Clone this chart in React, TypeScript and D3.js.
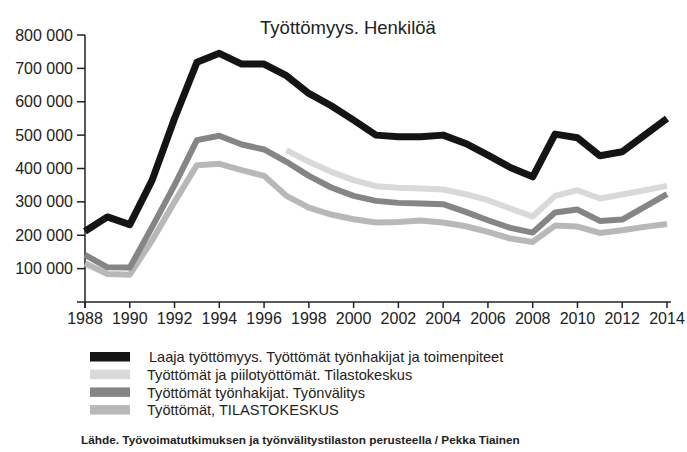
import React from "react";
import * as d3 from "d3";

const years: number[] = d3.range(1988, 2015);
const laaja: number[] = [212, 255, 232, 365, 550, 718, 745, 713, 713, 678, 625, 588, 545, 500, 495, 495, 500, 475, 440, 403, 375, 503, 492, 438, 450, 500, 550].map((v) => v * 1000);
const tyonvalitys: number[] = [141, 104, 103, 225, 350, 485, 498, 472, 457, 420, 378, 343, 318, 303, 297, 295, 293, 270, 245, 222, 208, 268, 277, 243, 247, 285, 323].map((v) => v * 1000);
const tilastokeskus: number[] = [116, 84, 82, 185, 300, 410, 414, 395, 378, 318, 283, 262, 248, 238, 240, 244, 238, 227, 210, 190, 180, 229, 226, 207, 215, 225, 234].map((v) => v * 1000);
const piiloYears: number[] = d3.range(1997, 2015);
const piilo: number[] = [455, 420, 390, 365, 347, 342, 340, 337, 323, 305, 280, 256, 318, 335, 310, 322, 335, 348].map((v) => v * 1000);

const yTicks: number[] = [100000, 200000, 300000, 400000, 500000, 600000, 700000, 800000];
const xTicks: number[] = d3.range(1988, 2015, 2);

const title = "Työttömyys. Henkilöä";
const legendLabels: string[] = [
  "Laaja työttömyys. Työttömät työnhakijat ja toimenpiteet",
  "Työttömät ja piilotyöttömät. Tilastokeskus",
  "Työttömät työnhakijat. Työnvälitys",
  "Työttömät, TILASTOKESKUS",
];
const source = "Lähde. Työvoimatutkimuksen ja työnvälitystilaston perusteella / Pekka Tiainen";

const colors = ["#141414", "#d9d9d9", "#858585", "#b8b8b8"];

export default function App() {
  const x = d3.scaleLinear().domain([1988, 2014]).range([85, 667]);
  const y = d3.scaleLinear().domain([0, 800000]).range([302, 35]);
  const fmt = (v: number) => d3.format(",")(v).replace(/,/g, " ");
  const line = d3
    .line<[number, number]>()
    .x((d) => x(d[0]))
    .y((d) => y(d[1]));

  const series = [
    { yrs: years, vals: laaja, color: colors[0], w: 7 },
    { yrs: piiloYears, vals: piilo, color: colors[1], w: 6 },
    { yrs: years, vals: tyonvalitys, color: colors[2], w: 6 },
    { yrs: years, vals: tilastokeskus, color: colors[3], w: 6 },
  ];
  const drawOrder = [3, 2, 1, 0];
  const font = "'Liberation Sans', Arial, sans-serif";

  return (
    <svg
      width={687}
      height={452}
      style={{ position: "absolute", left: 0, top: 0, background: "#fff" }}
      fontFamily={font}
    >
      <rect width={687} height={452} fill="#fff" />
      <text x={348} y={34} textAnchor="middle" fontSize={18.5} fill="#222">
        {title}
      </text>
      {/* y axis */}
      <line x1={x(1988)} x2={x(1988)} y1={y(800000)} y2={y(0) + 6} stroke="#222" strokeWidth={1.5} />
      {yTicks.map((t) => (
        <g key={t}>
          <line x1={x(1988) - 8} x2={x(1988)} y1={y(t)} y2={y(t)} stroke="#222" strokeWidth={1.5} />
          <text x={x(1988) - 12} y={y(t)} dy="0.35em" textAnchor="end" fontSize={16} fill="#222">
            {fmt(t)}
          </text>
        </g>
      ))}
      {/* x axis */}
      <line x1={x(1988) - 8} x2={x(2014) + 4} y1={y(0)} y2={y(0)} stroke="#222" strokeWidth={1.5} />
      {xTicks.map((t) => (
        <g key={t}>
          <line x1={x(t)} x2={x(t)} y1={y(0)} y2={y(0) + 6} stroke="#222" strokeWidth={1.5} />
          <text x={x(t)} y={y(0) + 22} textAnchor="middle" fontSize={16} fill="#222">
            {t}
          </text>
        </g>
      ))}
      {drawOrder.map((i) => {
        const s = series[i];
        const pts = s.yrs.map((yr, k) => [yr, s.vals[k]] as [number, number]);
        return (
          <path
            key={i}
            d={line(pts) || ""}
            fill="none"
            stroke={s.color}
            strokeWidth={s.w}
            strokeLinejoin="round"
          />
        );
      })}
      {legendLabels.map((l, i) => (
        <g key={l}>
          <rect x={90} y={352 + i * 17.7} width={40} height={9.5} fill={colors[i]} />
          <text x={i === 0 ? 149 : 147} y={357 + i * 17.7} dy="0.35em" fontSize={14.6} fill="#222">
            {l}
          </text>
        </g>
      ))}
      <text x={81} y={444} fontSize={11.8} fontWeight="bold" fill="#222">
        {source}
      </text>
    </svg>
  );
}
